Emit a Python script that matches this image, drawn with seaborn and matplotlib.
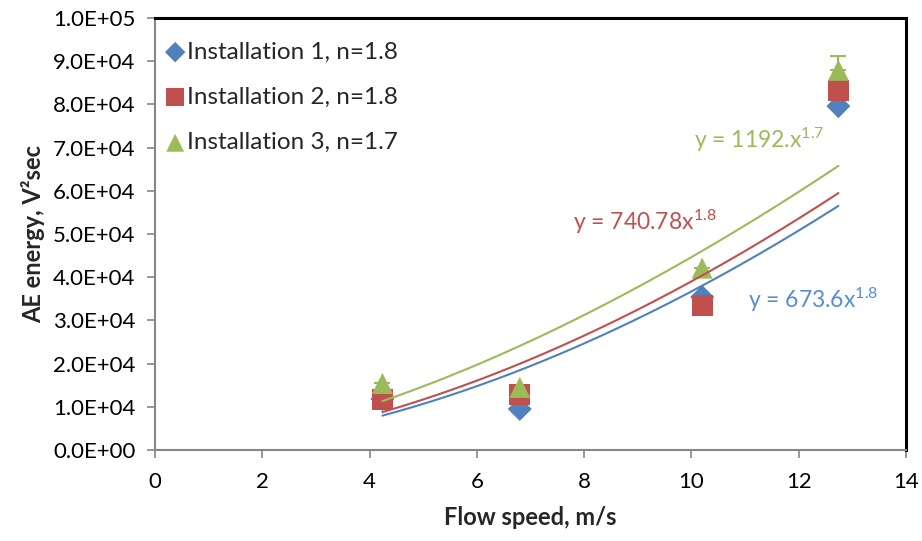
import numpy as np
import pandas as pd
import matplotlib
matplotlib.use("Agg")
import matplotlib.pyplot as plt
import seaborn as sns
from matplotlib.ticker import FuncFormatter, MultipleLocator

# ---- data ----
flow_speed = [4.24, 6.80, 10.20, 12.74]
inst1_energy = [11800, 9500, 35400, 79600]
inst2_energy = [11700, 12900, 33500, 83300]
inst3_energy = [15400, 14500, 42100, 87900]
inst3_err = [0, 0, 0, 3400]

labels = ["Installation 1, n=1.8", "Installation 2, n=1.8", "Installation 3, n=1.7"]
equations = ["y = 673.6x$\\mathregular{^{1.8}}$",
             "y = 740.78x$\\mathregular{^{1.8}}$",
             "y = 1192.x$\\mathregular{^{1.7}}$"]

colors = ["#4F81BD", "#C0504D", "#9BBB59"]
eq_colors = ["#558ED5", "#C0504D", "#9BBB59"]
markers = ["D", "s", "^"]
msizes = [150, 230, 230]

sns.set_theme(style="white")
plt.rcParams['font.family'] = ['Lato', 'DejaVu Sans']

fig = plt.figure(figsize=(9.22, 5.41), dpi=100)
ax = fig.add_axes([155/922, 1-450/541, (906-155)/922, (450-18)/541])

series = [inst1_energy, inst2_energy, inst3_energy]
df = pd.concat([pd.DataFrame({"x": flow_speed, "y": s, "inst": lab})
                for s, lab in zip(series, labels)], ignore_index=True)

# error bar on installation 3
ax.errorbar(flow_speed, inst3_energy, yerr=[np.zeros(4), inst3_err], fmt="none",
            ecolor=colors[2], elinewidth=1.5, capsize=6, capthick=1.5, zorder=1)

for i, lab in enumerate(labels):
    sub = df[df["inst"] == lab]
    sns.scatterplot(data=sub, x="x", y="y", marker=markers[i], s=msizes[i],
                    color=colors[i], edgecolor="none", label=lab, ax=ax, zorder=2 + i)

# power trendlines (log-log least squares fit of the data)
xx = np.linspace(min(flow_speed), max(flow_speed), 200)
for i, s in enumerate(series):
    b, a = np.polyfit(np.log(flow_speed), np.log(s), 1)
    sns.lineplot(x=xx, y=np.exp(a) * xx ** b, color=colors[i], lw=1.5, ax=ax,
                 zorder=6, legend=False)

# equation labels
eq_pos = [(748, 300), (573, 222), (694, 140)]
for (px, py), eq, c in zip(eq_pos, equations, eq_colors):
    ax.text(px / 922, 1 - py / 541, eq, transform=fig.transFigure, color=c,
            fontsize=16.5, ha="left", va="center")

ax.set_xlim(0, 14)
ax.set_ylim(0, 100000)
ax.xaxis.set_major_locator(MultipleLocator(2))
ax.yaxis.set_major_locator(MultipleLocator(10000))
ax.yaxis.set_major_formatter(FuncFormatter(lambda v, p: "{:.1E}".format(v)))

for sp in ["left", "bottom"]:
    ax.spines[sp].set_color("#868686")
    ax.spines[sp].set_linewidth(1.5)
for sp in ["top", "right"]:
    ax.spines[sp].set_color("black")
    ax.spines[sp].set_linewidth(2.2)

ax.tick_params(axis="both", which="major", direction="out", length=6, width=1.2,
               color="#868686", labelsize=16, labelcolor="black", pad=8)
ax.tick_params(axis="x", pad=10)
ax.tick_params(left=True, bottom=True)

ax.set_xlabel("Flow speed, m/s", fontsize=17, fontweight="bold", labelpad=10)
ax.set_ylabel("AE energy, V²sec", fontsize=17, fontweight="bold", labelpad=6)

leg = ax.legend(loc="upper left", bbox_to_anchor=(-0.012, 0.985), frameon=False,
                fontsize=17.5, handletextpad=0.0, labelspacing=1.0,
                borderaxespad=0.3, handlelength=1.0, markerscale=0.85)

fig.savefig("out.png", dpi=100)
